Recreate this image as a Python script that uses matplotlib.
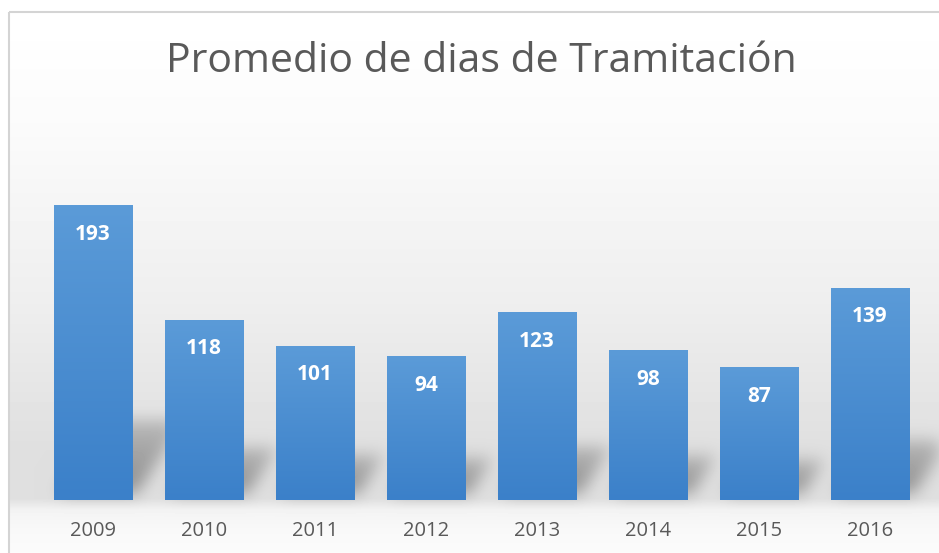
import numpy as np
import matplotlib
matplotlib.use("Agg")
import matplotlib.pyplot as plt
from matplotlib.patches import Rectangle
from matplotlib.colors import LinearSegmentedColormap

years = ["2009", "2010", "2011", "2012", "2013", "2014", "2015", "2016"]
dias = [193, 118, 101, 94, 123, 98, 87, 139]

W, H = 939, 553
plt.rcParams['font.family'] = ['Open Sans', 'DejaVu Sans']

fig = plt.figure(figsize=(W / 100, H / 100), dpi=100)

# ejes del grafico
px = 1.528
left = 37.5
ax = fig.add_axes([left / W, 53 / H, 888 / W, 250 * px / H], zorder=1)
ax.patch.set_alpha(0)
x = np.arange(len(years))
bars = ax.bar(x, dias, width=0.703, color='#4a8fd3', edgecolor='#9cc3ea', linewidth=0.6)
ax.set_xlim(-0.5, len(years) - 0.5)
ax.set_ylim(0, 250)

# fondo con degradado
bg = fig.add_axes([0, 0, 1, 1], zorder=0)
yy = np.arange(H)[:, None]
xx = np.arange(W)[None, :]
stops_y = [0, 12, 120, 300, 450, 498, 510, 530, 553]
stops_v = [1.0, 1.0, 0.985, 0.935, 0.875, 0.875, 0.955, 0.975, 0.985]
img = np.interp(yy, stops_y, stops_v) * np.ones((1, W))

# sombra en perspectiva de cada barra (hacia arriba a la derecha), difuminada
shadow = np.zeros((H, W))
for b in bars:
    (x0, y0), (x1, y1) = ax.transData.transform([(b.get_x(), 0),
                                                  (b.get_x() + b.get_width(), b.get_height())])
    base = H - y0 - 8
    rise = 0.25 * (y1 - y0)
    for r in range(int(rise)):
        t = r / rise
        shift = 0.65 * r + 6
        row = int(base - r)
        a, c = int(x0 + shift), int(x1 + shift)
        seg = shadow[row, max(a, 0):min(c, W)]
        shadow[row, max(a, 0):min(c, W)] = np.maximum(seg, 1 - 0.5 * t)
k = np.exp(-0.5 * (np.arange(-25, 26) / 8.0) ** 2)
k /= k.sum()
shadow = np.apply_along_axis(lambda v: np.convolve(v, k, mode='same'), 0, shadow)
shadow = np.apply_along_axis(lambda v: np.convolve(v, k, mode='same'), 1, shadow)
img = img - 0.32 * shadow
img[:, :9] = 1.0
img[:12, :] = 1.0
bg.imshow(img, cmap='gray', vmin=0, vmax=1, extent=(0, W, H, 0), aspect='auto',
          interpolation='bilinear')
bg.set_xlim(0, W)
bg.set_ylim(H, 0)
bg.axis('off')
bg.add_patch(Rectangle((9, 12), W, H, fill=False, edgecolor='#d4d4d4', linewidth=1.5))

cmap = LinearSegmentedColormap.from_list('azul', ['#3b80c9', '#5b9bd8'])
grad = np.linspace(0, 1, 256)[:, None]
for b in bars:
    bx, by = b.get_x(), b.get_y()
    bw, bh = b.get_width(), b.get_height()
    im = ax.imshow(grad, cmap=cmap, origin='lower', aspect='auto',
                   extent=(bx, bx + bw, by, by + bh), zorder=2)
    im.set_clip_path(b)

for xi, v in zip(x, dias):
    ax.annotate(str(v), xy=(xi, v), xytext=(0, -21), textcoords='offset points',
                ha='center', va='center', color='white', fontsize=15,
                fontweight='bold', zorder=3)

ax.set_xlim(-0.5, len(years) - 0.5)
ax.set_ylim(0, 250)
ax.set_xticks(x)
ax.set_xticklabels(years, fontsize=14.5, color='#595959')
ax.tick_params(axis='x', length=0, pad=15)
ax.set_yticks([])
for s in ax.spines.values():
    s.set_visible(False)

fig.text(481 / W, 1 - 62 / H, 'Promedio de dias de Tramitación', ha='center', va='center',
         fontsize=29.5, color='#595959')

fig.savefig('out.png', dpi=100)
